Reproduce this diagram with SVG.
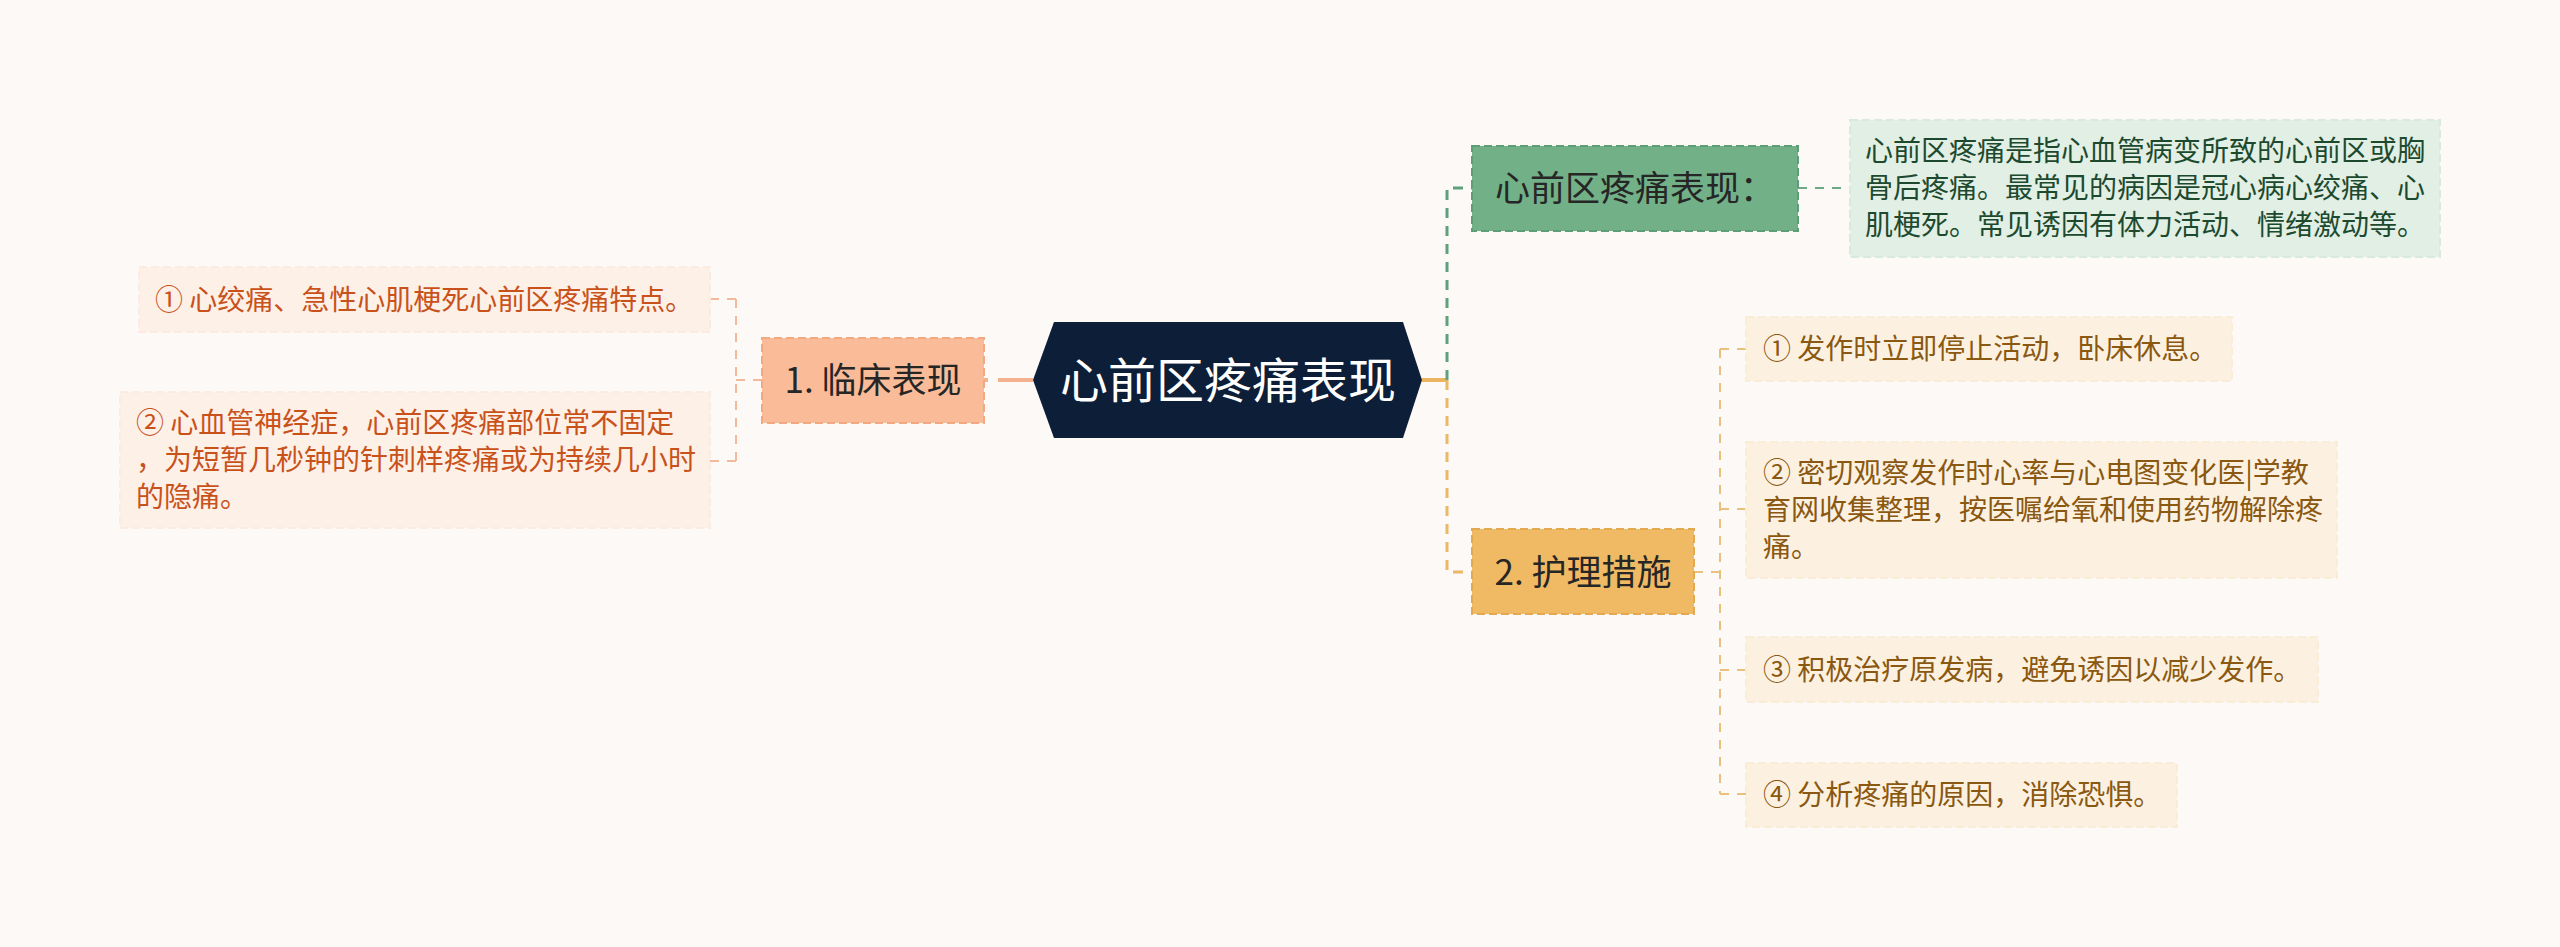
<svg xmlns="http://www.w3.org/2000/svg" width="2560" height="947" viewBox="0 0 2560 947">
<defs>
<style>
text{font-family:"Noto Sans CJK SC","Noto Sans",sans-serif;}
.bg{fill:#fdf9f7;}
.center{fill:#0c1e38;}
.ctext{fill:#ffffff;font-size:48px;text-anchor:middle;}
.l1text{fill:#262626;font-size:35px;text-anchor:middle;}
.b-peach{fill:#f9bb98;stroke:#f2a880;stroke-width:2;stroke-dasharray:8 4;}
.b-green{fill:#72b088;stroke:#5e9d76;stroke-width:2;stroke-dasharray:8 4;}
.b-orange{fill:#f0b963;stroke:#e3a94f;stroke-width:2;stroke-dasharray:8 4;}
.leaf-l{fill:#fdf0e7;stroke:#fcebe0;stroke-width:2;stroke-dasharray:8 4;}
.leaf-r{fill:#fcf1e1;stroke:#faecd7;stroke-width:2;stroke-dasharray:8 4;}
.leaf-g{fill:#e1efe5;stroke:#d8eadd;stroke-width:2;stroke-dasharray:8 4;}
.t-l{fill:#c9521b;font-size:28px;}
.t-r{fill:#8a5810;font-size:28px;}
.t-g{fill:#1d4a2e;font-size:28px;}
.c-main{fill:none;stroke-width:4;stroke-dasharray:35 10;}
.c-l1{fill:none;stroke-width:3;stroke-dasharray:10 8;}
.c-leaf{fill:none;stroke-width:2;stroke-dasharray:9 8;}
</style>
</defs>
<rect class="bg" x="0" y="0" width="2560" height="947"/>

<g id="connectors">
  <path class="c-main" stroke="#f5b28e" d="M1033 380 L984 380"/>
  <path class="c-leaf" stroke="#f3b99b" d="M762 380 L736 380 M736 299 L736 461 M736 299 L710 299 M736 461 L710 461"/>
  <path class="c-main" stroke="#ebb560" d="M1422 380 L1447 380"/>
  <path class="c-l1" stroke="#5fa17c" d="M1447 380 L1447 188 L1472 188"/>
  <path class="c-leaf" stroke="#6fa888" d="M1798 188 L1850 188"/>
  <path class="c-l1" stroke="#ebb865" d="M1447 380 L1447 572 L1472 572"/>
  <path class="c-leaf" stroke="#e9c07c" d="M1694 572 L1720 572 M1720 349 L1720 794 M1720 349 L1746 349 M1720 509 L1746 509 M1720 670 L1746 670 M1720 794 L1746 794"/>
</g>

<g id="node-root">
  <polygon class="center" points="1033,380 1054,322 1403,322 1422,380 1403,438 1054,438"/>
  <text class="ctext" x="1228" y="398">心前区疼痛表现</text>
</g>

<g id="node-clinical">
  <rect class="b-peach" x="762" y="338" width="222" height="85"/>
  <text class="l1text" x="873" y="393">1. 临床表现</text>
</g>

<g id="node-clinical-1">
  <rect class="leaf-l" x="139" y="267" width="571" height="65"/>
  <text class="t-l" x="155" y="310">① 心绞痛、急性心肌梗死心前区疼痛特点。</text>
</g>

<g id="node-clinical-2">
  <rect class="leaf-l" x="120" y="392" width="590" height="136"/>
  <text class="t-l" x="136" y="433">② 心血管神经症，心前区疼痛部位常不固定</text>
  <text class="t-l" x="136" y="470">，为短暂几秒钟的针刺样疼痛或为持续几小时</text>
  <text class="t-l" x="136" y="507">的隐痛。</text>
</g>

<g id="node-manifest">
  <rect class="b-green" x="1472" y="146" width="326" height="85"/>
  <text class="l1text" x="1635" y="201">心前区疼痛表现：</text>
</g>

<g id="node-manifest-desc">
  <rect class="leaf-g" x="1850" y="120" width="590" height="137"/>
  <text class="t-g" x="1865" y="161">心前区疼痛是指心血管病变所致的心前区或胸</text>
  <text class="t-g" x="1865" y="198">骨后疼痛。最常见的病因是冠心病心绞痛、心</text>
  <text class="t-g" x="1865" y="235">肌梗死。常见诱因有体力活动、情绪激动等。</text>
</g>

<g id="node-nursing">
  <rect class="b-orange" x="1472" y="529" width="222" height="85"/>
  <text class="l1text" x="1583" y="585">2. 护理措施</text>
</g>

<g id="node-nursing-1">
  <rect class="leaf-r" x="1746" y="317" width="486" height="64"/>
  <text class="t-r" x="1763" y="359">① 发作时立即停止活动，卧床休息。</text>
</g>

<g id="node-nursing-2">
  <rect class="leaf-r" x="1746" y="442" width="591" height="136"/>
  <text class="t-r" x="1763" y="483">② 密切观察发作时心率与心电图变化医|学教</text>
  <text class="t-r" x="1763" y="520">育网收集整理，按医嘱给氧和使用药物解除疼</text>
  <text class="t-r" x="1763" y="557">痛。</text>
</g>

<g id="node-nursing-3">
  <rect class="leaf-r" x="1746" y="637" width="572" height="65"/>
  <text class="t-r" x="1763" y="680">③ 积极治疗原发病，避免诱因以减少发作。</text>
</g>

<g id="node-nursing-4">
  <rect class="leaf-r" x="1746" y="763" width="431" height="64"/>
  <text class="t-r" x="1763" y="805">④ 分析疼痛的原因，消除恐惧。</text>
</g>
</svg>
